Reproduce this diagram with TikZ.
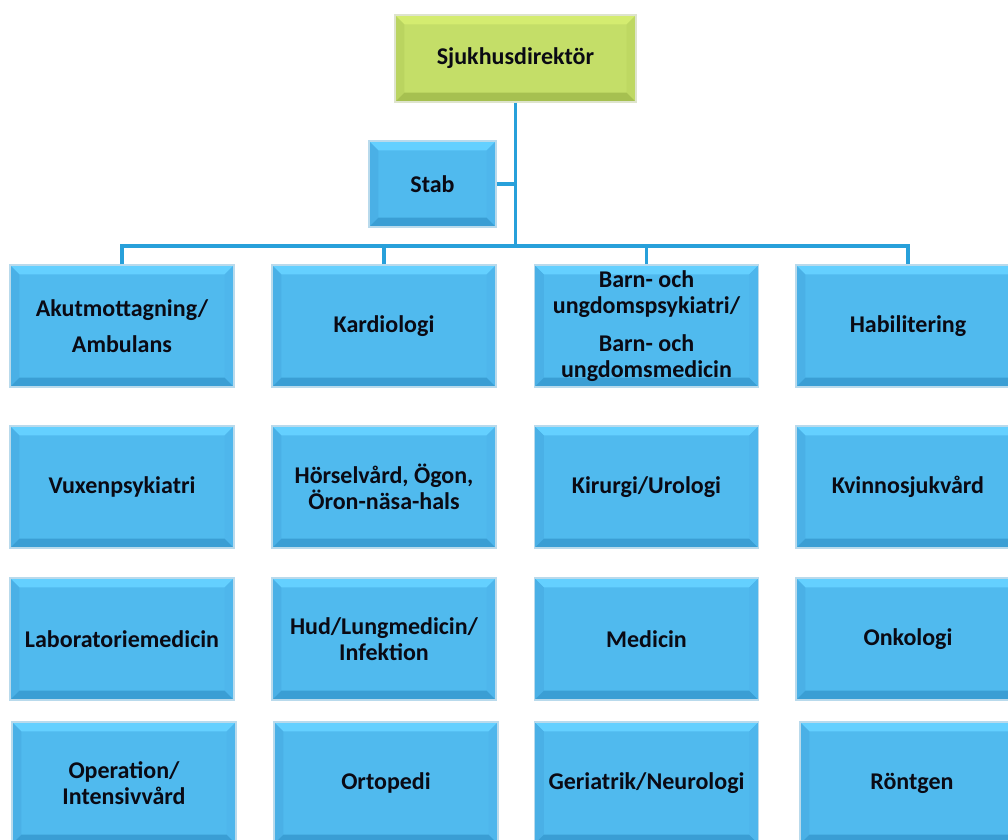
\documentclass[tikz,border=0pt]{standalone}
\usepackage{fontspec}
\setmainfont{Carlito}
\usetikzlibrary{calc}
\definecolor{bbase}{RGB}{80,186,238}
\definecolor{btop}{RGB}{100,208,255}
\definecolor{bleft}{RGB}{74,176,230}
\definecolor{bright}{RGB}{78,182,236}
\definecolor{bbot}{RGB}{58,158,212}
\definecolor{bborder}{RGB}{185,218,236}
\definecolor{gbase}{RGB}{196,222,104}
\definecolor{gtop}{RGB}{212,236,112}
\definecolor{gleft}{RGB}{186,212,96}
\definecolor{gright}{RGB}{190,216,98}
\definecolor{gbot}{RGB}{166,192,80}
\definecolor{gborder}{RGB}{222,228,205}
\definecolor{connc}{RGB}{40,160,218}
\definecolor{txt}{RGB}{10,10,20}
\tikzset{
  bevel/.style n args={6}{rectangle, inner sep=0pt, draw=#6, line width=1.2pt,
    fill=#1, align=center, text=txt, font=\fontsize{18}{19.5}\selectfont\bfseries,
    path picture={
      \coordinate (NW) at (path picture bounding box.north west);
      \coordinate (NE) at (path picture bounding box.north east);
      \coordinate (SW) at (path picture bounding box.south west);
      \coordinate (SE) at (path picture bounding box.south east);
      \fill[#2] (NW) -- (NE) -- ($(NE)+(-7pt,-7pt)$) -- ($(NW)+(7pt,-7pt)$) -- cycle;
      \fill[#3] (NW) -- (SW) -- ($(SW)+(7pt,7pt)$) -- ($(NW)+(7pt,-7pt)$) -- cycle;
      \fill[#4] (NE) -- (SE) -- ($(SE)+(-7pt,7pt)$) -- ($(NE)+(-7pt,-7pt)$) -- cycle;
      \fill[#5] (SW) -- (SE) -- ($(SE)+(-7pt,7pt)$) -- ($(SW)+(7pt,7pt)$) -- cycle;
    }},
  bluebox/.style={bevel={bbase}{btop}{bleft}{bright}{bbot}{bborder},
    minimum width=168pt, minimum height=91.5pt},
  greenbox/.style={bevel={gbase}{gtop}{gleft}{gright}{gbot}{gborder}},
  conn/.style={draw=connc, line width=2.4pt}
}
\begin{document}
\begin{tikzpicture}[x=0.75pt,y=-0.75pt]
\useasboundingbox (0,0) rectangle (1008,840);
\clip (0,0) rectangle (1008,840);
% top
\node[greenbox, minimum width=180.75pt, minimum height=65.25pt] (dir) at (515.5,58.5) {Sjukhusdirektör};
\node[bluebox, minimum width=95.25pt, minimum height=64.5pt] (stab) at (432.5,184) {Stab};
\coordinate (bus) at (515.5,246);
% row 1
\node[bluebox] (r1c1) at (122,326) {Akutmottagning/\\[8pt]Ambulans};
\node[bluebox] (r1c2) at (384,326) {Kardiologi};
\node[bluebox] (r1c3) at (646.5,326) {Barn- och\\ungdomspsykiatri/\\[9pt]Barn- och\\ungdomsmedicin};
\node[bluebox] (r1c4) at (908,326) {Habilitering};
% row 2
\node[bluebox] (r2c1) at (122,487) {Vuxenpsykiatri};
\node[bluebox] (r2c2) at (384,487) {Hörselvård, Ögon,\\Öron-näsa-hals};
\node[bluebox] (r2c3) at (646.5,487) {Kirurgi/Urologi};
\node[bluebox] (r2c4) at (908,487) {Kvinnosjukvård};
% row 3
\node[bluebox] (r3c1) at (122,639) {Laboratoriemedicin};
\node[bluebox] (r3c2) at (384,639) {Hud/Lungmedicin/\\Infektion};
\node[bluebox] (r3c3) at (646.5,639) {Medicin};
\node[bluebox] (r3c4) at (908,639) {Onkologi};
% row 4
\node[bluebox] (r4c1) at (124,783) {Operation/\\Intensivvård};
\node[bluebox] (r4c2) at (386,783) {Ortopedi};
\node[bluebox] (r4c3) at (646.5,783) {Geriatrik/Neurologi};
\node[bluebox] (r4c4) at (912,783) {Röntgen};
% connectors
\draw[conn] (dir.south) -- (dir.south |- bus);
\draw[conn] (stab.east) -- (stab.east -| dir.south);
\draw[conn] (r1c1.north) -- (r1c1.north |- bus) -- (r1c4.north |- bus) -- (r1c4.north);
\draw[conn] (r1c2.north) -- (r1c2.north |- bus);
\draw[conn] (r1c3.north) -- (r1c3.north |- bus);
\end{tikzpicture}
\end{document}
